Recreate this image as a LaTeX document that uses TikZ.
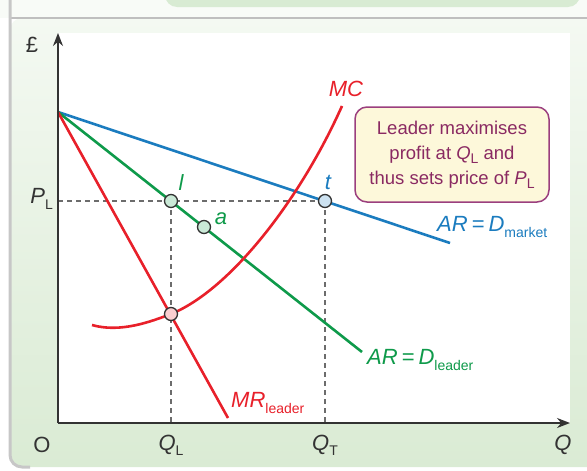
\documentclass[tikz,border=0pt]{standalone}
\usepackage{fontspec}
\setmainfont{Liberation Sans}
\usetikzlibrary{positioning,arrows.meta}

\definecolor{mcred}{HTML}{E8202A}
\definecolor{ldgreen}{HTML}{0E9A4A}
\definecolor{mktblue}{HTML}{1B7CBF}
\definecolor{boxline}{HTML}{9B3F7E}
\definecolor{boxtext}{HTML}{8A2A62}
\definecolor{boxfill}{HTML}{FDF8DA}
\definecolor{paneltop}{HTML}{F4F9F2}
\definecolor{panelbot}{HTML}{DAEBD4}
\definecolor{tabgreen}{HTML}{D8EBD3}
\definecolor{axisgray}{HTML}{333333}

\newcommand{\dn}[1]{\raisebox{-0.45ex}{\fontsize{14}{14}\selectfont\upshape #1}}
\newcommand{\eqsign}{\hspace{4pt}{\upshape =}\hspace{4pt}}

\tikzset{
  curve/.style={line width=2.6pt},
  guide/.style={draw=gray!85!black,line width=1.3pt,dash pattern=on 5pt off 4pt},
  axis/.style={draw=axisgray,line width=1.4pt,-{Stealth[length=13pt,width=10pt]}},
  dot/.style={circle,draw=black!80,line width=1.3pt,minimum size=13pt,inner sep=0pt},
  lbl/.style={font=\fontsize{22}{26}\selectfont\itshape,inner sep=1pt},
  ticklbl/.style={font=\fontsize{22}{26}\selectfont\itshape,text=axisgray,inner sep=1pt}
}

\begin{document}
\begin{tikzpicture}[x=1pt,y=-1pt]
\useasboundingbox (0,0) rectangle (587,471);

% panel and frame
\fill[paneltop!60!white] (0,0) rectangle (587,18);
\fill[tabgreen,rounded corners=12pt] (165,-20) rectangle (580,7);
\shade[top color=paneltop,bottom color=panelbot,rounded corners=12pt] (10,18) -- (10,467) -- (600,467) -- (600,18) -- cycle;
\draw[draw=black!25,line width=2pt] (10,18) -- (600,18);
\draw[draw=black!22,line width=3pt,rounded corners=12pt] (10,0) -- (10,467) -- (30,467);
\fill[white] (58,33) rectangle (570,423);

% key points
\coordinate (orig) at (58,423);
\coordinate (ytop) at (58,33);
\coordinate (xend) at (570,423);
\coordinate (start) at (58,112);
\coordinate (mktend) at (450,243);
\coordinate (ldend) at (362,352);
\coordinate (mrend) at (228,418);
\coordinate (PLpt) at (58,201);
\coordinate (QLpt) at (171,423);
\coordinate (QTpt) at (325,423);
\coordinate (mcstart) at (92,325);
\coordinate (mcend) at (342,106);

% guide lines
\draw[guide] (PLpt) -- (325,201);
\draw[guide] (171,201) -- (QLpt);
\draw[guide] (325,201) -- (QTpt);

% curves
\draw[curve,mktblue] (start) -- (mktend);
\draw[curve,ldgreen] (start) -- (ldend);
\draw[curve,mcred] (start) -- (mrend);
\draw[curve,mcred] (mcstart) .. controls (120,333) and (150,322) .. (171,314)
  .. controls (230,290) and (300,200) .. (mcend);

% axes
\draw[axis] (orig) -- (ytop);
\draw[axis] (orig) -- (xend);

% points
\node[dot,fill=ldgreen!22] (l) at (171,201) {};
\node[dot,fill=ldgreen!22] (a) at (204,227) {};
\node[dot,fill=mktblue!22] (t) at (325,201) {};
\node[dot,fill=mcred!22] (e) at (171,314) {};

% point labels
\node[lbl,text=ldgreen] at (181,183) {l};
\node[lbl,text=ldgreen] at (221,219) {a};
\node[lbl,text=mktblue] at (328,182) {t};
\node[lbl,text=mcred] at (346,89) {MC};

% curve labels
\node[lbl,text=mktblue,anchor=west] at (436,227) {AR\eqsign D\dn{market}};
\node[lbl,text=ldgreen,anchor=west] at (366,360) {AR\eqsign D\dn{leader}};
\node[lbl,text=mcred,anchor=west] at (230,403) {MR\dn{leader}};

% axis labels
\node[font=\fontsize{22}{26}\selectfont,text=axisgray] at (32,45) {£};
\node[ticklbl,anchor=east] at (54,199) {P\dn{L}};
\node[ticklbl,font=\fontsize{22}{26}\selectfont\upshape] at (42,445) {O};
\node[ticklbl] at (171,445) {Q\dn{L}};
\node[ticklbl] at (325,445) {Q\dn{T}};
\node[ticklbl] at (563,445) {Q};

% note box
\node[draw=boxline,fill=boxfill,line width=1.5pt,rounded corners=12pt,
      minimum width=194pt,minimum height=95pt,align=center,text=boxtext,
      font=\fontsize{18.5}{25}\selectfont] (note) at (452,154.5)
  {Leader maximises\\ profit at \textit{Q}\dn{L} and\\ thus sets price of \textit{P}\dn{L}};
\end{tikzpicture}
\end{document}
